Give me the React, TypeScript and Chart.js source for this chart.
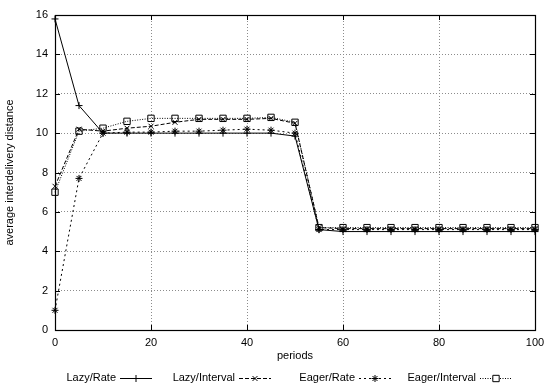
import React, { useEffect, useRef } from 'react';
import { Chart, registerables } from 'chart.js';
import { drawPoint } from 'chart.js/helpers';

Chart.register(...registerables);

// ---- data ----
const periods = [0, 5, 10, 15, 20, 25, 30, 35, 40, 45, 50, 55, 60, 65, 70, 75, 80, 85, 90, 95, 100];
const lazyRate = [15.8, 11.4, 10.0, 10.0, 10.0, 10.0, 10.0, 10.0, 10.0, 10.0, 9.85, 5.1, 5.0, 5.0, 5.0, 5.0, 5.0, 5.0, 5.0, 5.0, 5.0];
const lazyInterval = [7.3, 10.2, 10.1, 10.25, 10.35, 10.55, 10.7, 10.7, 10.7, 10.75, 10.5, 5.2, 5.15, 5.15, 5.15, 5.15, 5.15, 5.15, 5.15, 5.15, 5.15];
const eagerRate = [1.0, 7.7, 10.0, 10.05, 10.05, 10.1, 10.1, 10.15, 10.2, 10.15, 10.0, 5.1, 5.1, 5.1, 5.1, 5.1, 5.1, 5.1, 5.1, 5.1, 5.1];
const eagerInterval = [7.0, 10.1, 10.25, 10.6, 10.75, 10.75, 10.75, 10.75, 10.75, 10.8, 10.55, 5.2, 5.2, 5.2, 5.2, 5.2, 5.2, 5.2, 5.2, 5.2, 5.2];
const seriesNames = ['Lazy/Rate', 'Lazy/Interval', 'Eager/Rate', 'Eager/Interval'];
const xTickLabels = [0, 20, 40, 60, 80, 100];
const yTickLabels = [0, 2, 4, 6, 8, 10, 12, 14, 16];
const xTitle = 'periods';
const yTitle = 'average interdelivery distance';

const FONT = "'Liberation Sans', Arial, Helvetica, sans-serif";

const styles = [
  { dash: [], point: 'cross', radius: 3.5 },
  { dash: [4, 2], point: 'crossRot', radius: 3.5 },
  { dash: [2, 3], point: 'star', radius: 3.5 },
  { dash: [1, 1.5], point: 'rect', radius: 4.5 },
];

const seriesValues = [lazyRate, lazyInterval, eagerRate, eagerInterval];

const framePlugin = {
  id: 'gnuFrame',
  beforeDatasetsDraw(chart: any) {
    const { ctx, chartArea } = chart;
    const { left, right, top, bottom } = chartArea;
    const xs = chart.scales.x;
    const ys = chart.scales.y;
    ctx.save();
    ctx.strokeStyle = '#000';
    ctx.lineWidth = 1;
    ctx.setLineDash([]);
    ctx.beginPath();
    const tl = 5;
    xs.ticks.forEach((t: any) => {
      const px = Math.round(xs.getPixelForValue(t.value)) + 0.5;
      ctx.moveTo(px, bottom);
      ctx.lineTo(px, bottom - tl);
      ctx.moveTo(px, top);
      ctx.lineTo(px, top + tl);
    });
    ys.ticks.forEach((t: any) => {
      const py = Math.round(ys.getPixelForValue(t.value)) + 0.5;
      ctx.moveTo(left, py);
      ctx.lineTo(left + tl, py);
      ctx.moveTo(right, py);
      ctx.lineTo(right - tl, py);
    });
    ctx.stroke();
    ctx.lineWidth = 1.2;
    ctx.strokeRect(Math.round(left) + 0.5, Math.round(top) + 0.5, Math.round(right - left), Math.round(bottom - top));
    ctx.restore();
  },
  afterDraw(chart: any) {
    const { ctx } = chart;
    const y = 378;
    const sampleLen = 32;
    const starts = [120, 239, 359, 480];
    ctx.save();
    ctx.font = `11px ${FONT}`;
    ctx.fillStyle = '#000';
    ctx.textAlign = 'right';
    ctx.textBaseline = 'middle';
    chart.data.datasets.forEach((ds: any, i: number) => {
      const sx = starts[i];
      ctx.fillText(ds.label, sx - 4, y);
      ctx.save();
      ctx.strokeStyle = '#000';
      ctx.lineWidth = 1;
      ctx.setLineDash(ds.borderDash || []);
      ctx.beginPath();
      ctx.moveTo(sx, y + 0.5);
      ctx.lineTo(sx + sampleLen, y + 0.5);
      ctx.stroke();
      ctx.setLineDash([]);
      ctx.fillStyle = '#fff';
      drawPoint(ctx, { pointStyle: ds.pointStyle, radius: ds.pointRadius, borderWidth: 1, rotation: 0 }, sx + sampleLen / 2, y + 0.5);
      ctx.restore();
    });
    ctx.restore();
  },
};

export default function App() {
  const ref = useRef<HTMLCanvasElement | null>(null);

  useEffect(() => {
    document.body.style.margin = '0';
    const canvas = ref.current;
    if (!canvas) return;
    Chart.defaults.font.family = FONT;
    Chart.defaults.font.size = 11;
    Chart.defaults.color = '#000';

    const datasets = seriesNames.map((name, i) => ({
      label: name,
      data: periods.map((p, j) => ({ x: p, y: seriesValues[i][j] })),
      borderColor: '#000',
      backgroundColor: '#fff',
      borderWidth: 1,
      borderDash: styles[i].dash,
      pointStyle: styles[i].point,
      pointRadius: styles[i].radius,
      pointBorderColor: '#000',
      pointBackgroundColor: 'rgba(255,255,255,0)',
      pointBorderWidth: 1,
      tension: 0,
      fill: false,
      clip: false,
    }));

    const chart = new Chart(canvas, {
      type: 'line',
      data: { datasets },
      plugins: [framePlugin],
      options: {
        responsive: false,
        animation: false,
        devicePixelRatio: 1,
        layout: { padding: { left: 0, right: 19, top: 15, bottom: 0 } },
        plugins: { legend: { display: false }, tooltip: { enabled: false } },
        scales: {
          x: {
            type: 'linear',
            min: 0,
            max: 100,
            afterBuildTicks: (s: any) => { s.ticks = xTickLabels.map((v) => ({ value: v })); },
            afterFit: (s: any) => { s.height = 57; },
            grid: { color: '#8c8c8c', lineWidth: 1, drawTicks: false },
            border: { display: false, dash: [1, 2] },
            ticks: { padding: 6, color: '#000', font: { size: 11 }, maxRotation: 0 },
            title: { display: true, text: xTitle, font: { size: 11 }, color: '#000', padding: { top: 0, bottom: 24 } },
          },
          y: {
            type: 'linear',
            min: 0,
            max: 16,
            afterBuildTicks: (s: any) => { s.ticks = yTickLabels.map((v) => ({ value: v })); },
            afterFit: (s: any) => { s.width = 55; },
            grid: { color: '#8c8c8c', lineWidth: 1, drawTicks: false },
            border: { display: false, dash: [1, 2] },
            ticks: { padding: 7, color: '#000', font: { size: 11 } },
            title: { display: true, text: yTitle, font: { size: 11 }, color: '#000', padding: { top: 3, bottom: 0 } },
          },
        },
      },
    } as any);
    return () => chart.destroy();
  }, []);

  return (
    <div style={{ width: 554, height: 387 }}>
      <canvas ref={ref} width={554} height={387} style={{ display: 'block' }} />
    </div>
  );
}
